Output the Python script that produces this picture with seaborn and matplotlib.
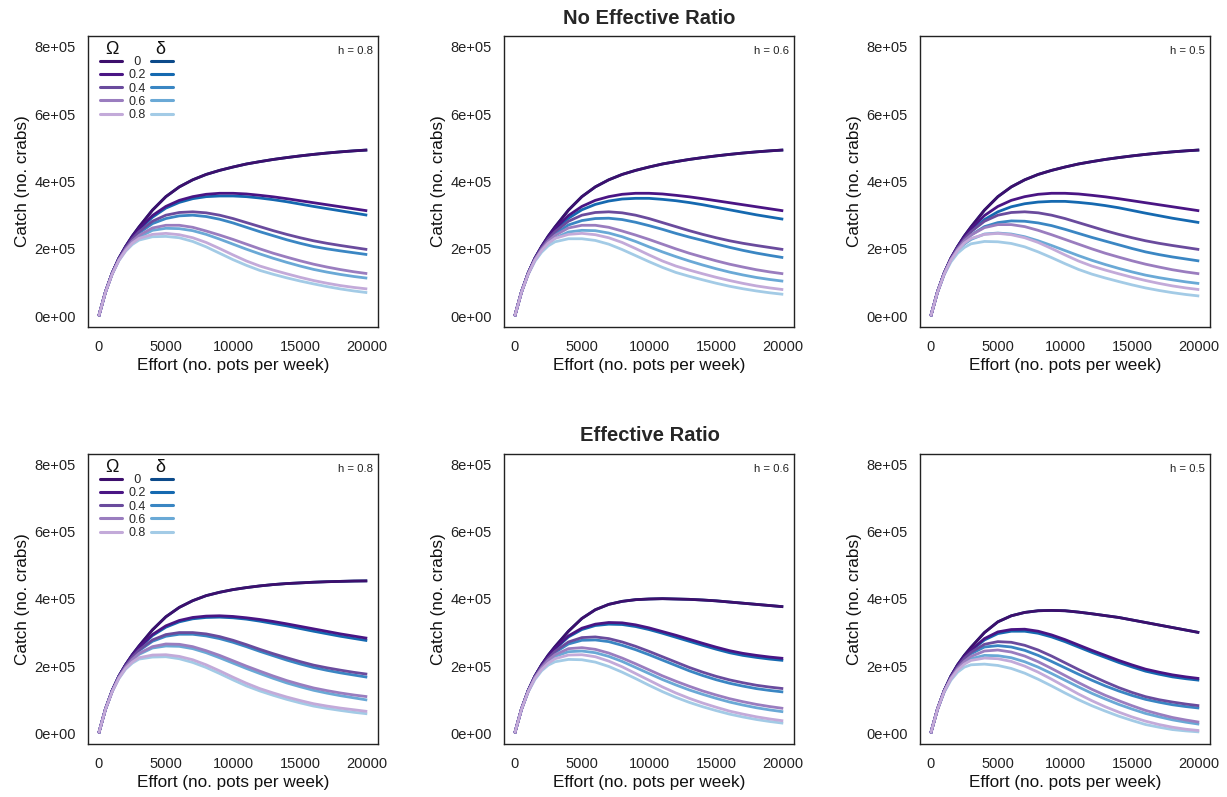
import matplotlib
matplotlib.use("Agg")
import matplotlib.pyplot as plt
from matplotlib.lines import Line2D
import pandas as pd
import seaborn as sns

# ---------------- data (catch in units of 1e5 crabs) ----------------
EFFORT = [0, 500, 1000, 1500, 2000, 2500, 3000, 4000, 5000, 6000, 7000, 8000, 9000,
          10000, 11000, 12000, 13000, 14000, 15000, 16000, 17000, 18000, 19000, 20000]
LEVELS = ["0", "0.2", "0.4", "0.6", "0.8"]
H_LABELS = ["h = 0.8", "h = 0.6", "h = 0.5"]
ROW_TITLES = ["No Effective Ratio", "Effective Ratio"]

# No Effective Ratio, h = 0.8
ner_h08_omega = [
    [0, 0.72, 1.28, 1.72, 2.07, 2.38, 2.65, 3.15, 3.55, 3.84, 4.05, 4.21, 4.33, 4.43, 4.52, 4.59, 4.655, 4.71, 4.76, 4.805, 4.845, 4.88, 4.91, 4.935],
    [0, 0.72, 1.28, 1.72, 2.06, 2.35, 2.60, 2.99, 3.26, 3.44, 3.55, 3.62, 3.65, 3.65, 3.63, 3.59, 3.545, 3.49, 3.43, 3.37, 3.31, 3.25, 3.19, 3.13],
    [0, 0.72, 1.27, 1.70, 2.03, 2.30, 2.51, 2.82, 3.00, 3.08, 3.10, 3.07, 3.00, 2.90, 2.78, 2.66, 2.54, 2.43, 2.33, 2.24, 2.165, 2.10, 2.04, 1.98],
    [0, 0.71, 1.26, 1.68, 1.99, 2.23, 2.40, 2.62, 2.70, 2.70, 2.64, 2.53, 2.41, 2.28, 2.14, 2.00, 1.87, 1.755, 1.645, 1.545, 1.46, 1.385, 1.32, 1.265],
    [0, 0.71, 1.25, 1.66, 1.95, 2.17, 2.31, 2.43, 2.46, 2.42, 2.33, 2.19, 2.01, 1.82, 1.64, 1.49, 1.37, 1.26, 1.155, 1.06, 0.98, 0.91, 0.855, 0.81],
]
ner_h08_delta = [
    [0, 0.72, 1.28, 1.72, 2.07, 2.38, 2.65, 3.15, 3.55, 3.84, 4.05, 4.21, 4.33, 4.43, 4.52, 4.59, 4.655, 4.71, 4.76, 4.805, 4.845, 4.88, 4.91, 4.935],
    [0, 0.72, 1.28, 1.71, 2.05, 2.33, 2.57, 2.94, 3.21, 3.38, 3.49, 3.55, 3.57, 3.57, 3.55, 3.51, 3.46, 3.40, 3.33, 3.26, 3.195, 3.13, 3.065, 3.00],
    [0, 0.72, 1.27, 1.69, 2.01, 2.27, 2.47, 2.75, 2.90, 2.98, 3.00, 2.96, 2.88, 2.77, 2.64, 2.51, 2.39, 2.27, 2.165, 2.07, 2.00, 1.94, 1.885, 1.83],
    [0, 0.71, 1.26, 1.67, 1.97, 2.19, 2.35, 2.55, 2.61, 2.60, 2.54, 2.43, 2.29, 2.14, 1.99, 1.85, 1.72, 1.60, 1.49, 1.39, 1.31, 1.24, 1.18, 1.13],
    [0, 0.71, 1.25, 1.65, 1.93, 2.13, 2.26, 2.36, 2.37, 2.33, 2.22, 2.06, 1.87, 1.68, 1.51, 1.36, 1.245, 1.14, 1.045, 0.96, 0.88, 0.81, 0.75, 0.70],
]
# No Effective Ratio, h = 0.6
ner_h06_omega = [
    [0, 0.72, 1.28, 1.72, 2.07, 2.38, 2.65, 3.15, 3.55, 3.84, 4.05, 4.21, 4.33, 4.43, 4.52, 4.59, 4.655, 4.71, 4.76, 4.805, 4.845, 4.88, 4.91, 4.935],
    [0, 0.72, 1.28, 1.72, 2.06, 2.35, 2.60, 2.99, 3.26, 3.44, 3.55, 3.62, 3.65, 3.65, 3.63, 3.59, 3.545, 3.49, 3.43, 3.37, 3.31, 3.25, 3.19, 3.13],
    [0, 0.72, 1.27, 1.70, 2.03, 2.30, 2.51, 2.82, 3.00, 3.08, 3.10, 3.07, 3.00, 2.90, 2.78, 2.66, 2.54, 2.43, 2.33, 2.24, 2.165, 2.10, 2.04, 1.98],
    [0, 0.71, 1.26, 1.68, 1.99, 2.23, 2.40, 2.62, 2.70, 2.70, 2.64, 2.53, 2.41, 2.28, 2.14, 2.00, 1.87, 1.755, 1.645, 1.545, 1.46, 1.38, 1.315, 1.26],
    [0, 0.71, 1.25, 1.66, 1.95, 2.17, 2.31, 2.43, 2.46, 2.42, 2.33, 2.19, 2.01, 1.82, 1.64, 1.49, 1.37, 1.26, 1.155, 1.06, 0.975, 0.90, 0.84, 0.79],
]
ner_h06_delta = [
    [0, 0.72, 1.28, 1.72, 2.07, 2.38, 2.65, 3.15, 3.55, 3.84, 4.05, 4.21, 4.33, 4.43, 4.52, 4.59, 4.655, 4.71, 4.76, 4.805, 4.845, 4.88, 4.91, 4.935],
    [0, 0.72, 1.28, 1.71, 2.04, 2.32, 2.55, 2.91, 3.16, 3.32, 3.42, 3.48, 3.50, 3.50, 3.47, 3.43, 3.375, 3.31, 3.235, 3.16, 3.085, 3.01, 2.945, 2.88],
    [0, 0.72, 1.27, 1.68, 2.00, 2.25, 2.44, 2.71, 2.84, 2.90, 2.91, 2.87, 2.79, 2.69, 2.58, 2.46, 2.35, 2.25, 2.145, 2.045, 1.955, 1.875, 1.805, 1.74],
    [0, 0.71, 1.26, 1.66, 1.95, 2.17, 2.32, 2.50, 2.55, 2.54, 2.47, 2.36, 2.22, 2.06, 1.91, 1.77, 1.64, 1.52, 1.41, 1.31, 1.225, 1.15, 1.09, 1.04],
    [0, 0.71, 1.24, 1.63, 1.90, 2.09, 2.21, 2.30, 2.30, 2.25, 2.14, 1.98, 1.80, 1.62, 1.45, 1.30, 1.185, 1.08, 0.98, 0.89, 0.815, 0.75, 0.695, 0.65],
]
# No Effective Ratio, h = 0.5
ner_h05_omega = [
    [0, 0.72, 1.28, 1.72, 2.07, 2.38, 2.65, 3.15, 3.55, 3.84, 4.05, 4.21, 4.33, 4.43, 4.52, 4.59, 4.655, 4.71, 4.76, 4.805, 4.845, 4.88, 4.91, 4.935],
    [0, 0.72, 1.28, 1.72, 2.06, 2.35, 2.60, 2.99, 3.26, 3.44, 3.55, 3.62, 3.65, 3.65, 3.63, 3.59, 3.545, 3.49, 3.43, 3.37, 3.31, 3.25, 3.19, 3.13],
    [0, 0.72, 1.27, 1.70, 2.03, 2.30, 2.51, 2.82, 3.00, 3.08, 3.10, 3.07, 3.00, 2.90, 2.78, 2.66, 2.54, 2.43, 2.33, 2.24, 2.165, 2.10, 2.04, 1.98],
    [0, 0.71, 1.26, 1.68, 1.99, 2.24, 2.41, 2.63, 2.72, 2.72, 2.66, 2.55, 2.42, 2.28, 2.14, 2.00, 1.87, 1.755, 1.645, 1.545, 1.46, 1.38, 1.315, 1.26],
    [0, 0.71, 1.25, 1.66, 1.95, 2.17, 2.31, 2.43, 2.46, 2.42, 2.33, 2.19, 2.01, 1.82, 1.64, 1.49, 1.37, 1.26, 1.155, 1.06, 0.975, 0.90, 0.84, 0.79],
]
ner_h05_delta = [
    [0, 0.72, 1.28, 1.72, 2.07, 2.38, 2.65, 3.15, 3.55, 3.84, 4.05, 4.21, 4.33, 4.43, 4.52, 4.59, 4.655, 4.71, 4.76, 4.805, 4.845, 4.88, 4.91, 4.935],
    [0, 0.72, 1.28, 1.70, 2.03, 2.30, 2.52, 2.87, 3.10, 3.25, 3.34, 3.39, 3.41, 3.41, 3.38, 3.34, 3.285, 3.22, 3.14, 3.06, 2.985, 2.91, 2.845, 2.78],
    [0, 0.72, 1.26, 1.67, 1.98, 2.22, 2.41, 2.66, 2.78, 2.83, 2.82, 2.77, 2.69, 2.58, 2.46, 2.34, 2.23, 2.12, 2.01, 1.91, 1.83, 1.76, 1.70, 1.64],
    [0, 0.71, 1.25, 1.65, 1.93, 2.14, 2.28, 2.44, 2.47, 2.44, 2.36, 2.24, 2.10, 1.95, 1.80, 1.66, 1.535, 1.42, 1.315, 1.22, 1.145, 1.08, 1.02, 0.97],
    [0, 0.70, 1.23, 1.61, 1.87, 2.04, 2.15, 2.22, 2.21, 2.16, 2.06, 1.91, 1.74, 1.56, 1.39, 1.25, 1.135, 1.03, 0.93, 0.84, 0.765, 0.70, 0.645, 0.60],
]
# Effective Ratio, h = 0.8
er_h08_omega = [
    [0, 0.72, 1.27, 1.70, 2.04, 2.34, 2.60, 3.08, 3.47, 3.75, 3.95, 4.10, 4.20, 4.28, 4.34, 4.39, 4.43, 4.46, 4.48, 4.50, 4.515, 4.525, 4.535, 4.54],
    [0, 0.72, 1.27, 1.70, 2.04, 2.32, 2.56, 2.94, 3.20, 3.36, 3.45, 3.49, 3.50, 3.48, 3.44, 3.39, 3.33, 3.26, 3.185, 3.11, 3.035, 2.96, 2.895, 2.83],
    [0, 0.72, 1.26, 1.69, 2.01, 2.27, 2.48, 2.78, 2.94, 3.00, 3.00, 2.96, 2.88, 2.77, 2.64, 2.50, 2.37, 2.25, 2.135, 2.03, 1.95, 1.88, 1.815, 1.76],
    [0, 0.71, 1.25, 1.67, 1.97, 2.20, 2.38, 2.58, 2.66, 2.65, 2.58, 2.46, 2.32, 2.16, 2.00, 1.85, 1.705, 1.57, 1.455, 1.35, 1.27, 1.20, 1.14, 1.09],
    [0, 0.71, 1.24, 1.64, 1.93, 2.12, 2.25, 2.33, 2.34, 2.29, 2.19, 2.04, 1.86, 1.67, 1.49, 1.33, 1.20, 1.08, 0.975, 0.88, 0.81, 0.75, 0.70, 0.65],
]
er_h08_delta = [
    [0, 0.72, 1.27, 1.70, 2.04, 2.34, 2.60, 3.08, 3.47, 3.75, 3.95, 4.10, 4.20, 4.28, 4.34, 4.39, 4.43, 4.46, 4.48, 4.50, 4.515, 4.525, 4.535, 4.54],
    [0, 0.72, 1.27, 1.70, 2.03, 2.31, 2.54, 2.91, 3.16, 3.32, 3.41, 3.45, 3.46, 3.44, 3.40, 3.34, 3.27, 3.20, 3.12, 3.04, 2.965, 2.89, 2.825, 2.76],
    [0, 0.72, 1.26, 1.68, 2.00, 2.26, 2.46, 2.74, 2.89, 2.95, 2.95, 2.90, 2.82, 2.71, 2.58, 2.44, 2.31, 2.18, 2.065, 1.96, 1.875, 1.80, 1.735, 1.67],
    [0, 0.71, 1.25, 1.66, 1.96, 2.18, 2.35, 2.54, 2.60, 2.59, 2.52, 2.40, 2.25, 2.09, 1.93, 1.78, 1.635, 1.50, 1.385, 1.28, 1.195, 1.12, 1.055, 0.99],
    [0, 0.71, 1.24, 1.63, 1.91, 2.09, 2.21, 2.27, 2.28, 2.22, 2.11, 1.96, 1.78, 1.59, 1.41, 1.26, 1.13, 1.01, 0.905, 0.81, 0.74, 0.68, 0.625, 0.58],
]
# Effective Ratio, h = 0.6
er_h06_omega = [
    [0, 0.72, 1.27, 1.70, 2.04, 2.33, 2.58, 3.04, 3.42, 3.68, 3.84, 3.93, 3.98, 4.00, 4.01, 4.00, 3.99, 3.97, 3.945, 3.91, 3.875, 3.84, 3.805, 3.77],
    [0, 0.72, 1.27, 1.70, 2.03, 2.30, 2.53, 2.90, 3.13, 3.25, 3.30, 3.29, 3.23, 3.14, 3.03, 2.92, 2.80, 2.68, 2.565, 2.46, 2.38, 2.32, 2.27, 2.23],
    [0, 0.72, 1.26, 1.68, 1.99, 2.24, 2.44, 2.72, 2.85, 2.87, 2.82, 2.72, 2.59, 2.44, 2.28, 2.12, 1.96, 1.82, 1.695, 1.59, 1.505, 1.43, 1.375, 1.33],
    [0, 0.71, 1.25, 1.66, 1.95, 2.18, 2.34, 2.52, 2.55, 2.50, 2.39, 2.24, 2.07, 1.89, 1.71, 1.55, 1.40, 1.26, 1.14, 1.03, 0.94, 0.86, 0.795, 0.74],
    [0, 0.71, 1.24, 1.63, 1.90, 2.09, 2.22, 2.33, 2.34, 2.28, 2.15, 1.98, 1.78, 1.58, 1.38, 1.20, 1.04, 0.90, 0.775, 0.66, 0.57, 0.49, 0.425, 0.37],
]
er_h06_delta = [
    [0, 0.72, 1.27, 1.70, 2.04, 2.33, 2.58, 3.04, 3.42, 3.68, 3.84, 3.93, 3.98, 4.00, 4.01, 4.00, 3.99, 3.97, 3.945, 3.91, 3.875, 3.84, 3.805, 3.77],
    [0, 0.72, 1.27, 1.69, 2.02, 2.29, 2.51, 2.87, 3.09, 3.21, 3.25, 3.24, 3.18, 3.09, 2.98, 2.86, 2.74, 2.62, 2.505, 2.40, 2.32, 2.26, 2.21, 2.17],
    [0, 0.71, 1.26, 1.67, 1.98, 2.22, 2.41, 2.66, 2.77, 2.78, 2.73, 2.62, 2.49, 2.34, 2.18, 2.02, 1.86, 1.72, 1.595, 1.49, 1.405, 1.33, 1.275, 1.23],
    [0, 0.71, 1.25, 1.65, 1.93, 2.14, 2.29, 2.43, 2.45, 2.40, 2.29, 2.14, 1.96, 1.78, 1.60, 1.44, 1.29, 1.16, 1.04, 0.93, 0.84, 0.76, 0.695, 0.64],
    [0, 0.70, 1.23, 1.60, 1.86, 2.03, 2.13, 2.20, 2.19, 2.12, 1.99, 1.82, 1.63, 1.43, 1.24, 1.07, 0.92, 0.79, 0.675, 0.57, 0.485, 0.41, 0.35, 0.30],
]
# Effective Ratio, h = 0.5
er_h05_omega = [
    [0, 0.72, 1.27, 1.70, 2.04, 2.32, 2.56, 3.00, 3.32, 3.50, 3.60, 3.65, 3.66, 3.65, 3.61, 3.56, 3.505, 3.45, 3.375, 3.30, 3.225, 3.15, 3.075, 3.00],
    [0, 0.72, 1.27, 1.69, 2.02, 2.28, 2.48, 2.82, 3.02, 3.09, 3.10, 3.04, 2.93, 2.79, 2.63, 2.47, 2.32, 2.17, 2.035, 1.91, 1.82, 1.74, 1.68, 1.63],
    [0, 0.71, 1.26, 1.67, 1.98, 2.23, 2.41, 2.65, 2.73, 2.71, 2.62, 2.48, 2.30, 2.10, 1.90, 1.71, 1.53, 1.36, 1.215, 1.09, 1.00, 0.93, 0.87, 0.82],
    [0, 0.71, 1.25, 1.64, 1.93, 2.14, 2.29, 2.45, 2.48, 2.42, 2.30, 2.13, 1.93, 1.72, 1.51, 1.31, 1.13, 0.97, 0.82, 0.68, 0.57, 0.47, 0.395, 0.33],
    [0, 0.71, 1.24, 1.62, 1.88, 2.06, 2.17, 2.24, 2.22, 2.14, 2.00, 1.82, 1.61, 1.39, 1.17, 0.97, 0.79, 0.63, 0.485, 0.36, 0.26, 0.18, 0.12, 0.08],
]
er_h05_delta = [
    [0, 0.72, 1.27, 1.70, 2.04, 2.32, 2.56, 3.00, 3.32, 3.50, 3.60, 3.65, 3.66, 3.65, 3.61, 3.56, 3.505, 3.45, 3.375, 3.30, 3.225, 3.15, 3.075, 3.00],
    [0, 0.72, 1.26, 1.69, 2.01, 2.26, 2.46, 2.78, 2.97, 3.04, 3.04, 2.98, 2.87, 2.73, 2.57, 2.41, 2.26, 2.11, 1.975, 1.85, 1.76, 1.68, 1.625, 1.58],
    [0, 0.71, 1.25, 1.66, 1.96, 2.20, 2.37, 2.57, 2.61, 2.57, 2.47, 2.32, 2.14, 1.95, 1.76, 1.58, 1.41, 1.26, 1.125, 1.01, 0.925, 0.85, 0.795, 0.75],
    [0, 0.71, 1.24, 1.63, 1.90, 2.09, 2.22, 2.32, 2.31, 2.25, 2.13, 1.97, 1.78, 1.58, 1.38, 1.19, 1.02, 0.86, 0.72, 0.59, 0.49, 0.40, 0.33, 0.27],
    [0, 0.70, 1.22, 1.58, 1.82, 1.97, 2.04, 2.06, 2.02, 1.93, 1.79, 1.61, 1.41, 1.20, 1.00, 0.82, 0.66, 0.51, 0.38, 0.26, 0.18, 0.11, 0.07, 0.04],
]

OMEGA_COLORS = ["#3d0f6c", "#4a1584", "#6a4b9d", "#9a7dbf", "#c3aad9"]
DELTA_COLORS = ["#0c4a8a", "#1569b0", "#3a86c3", "#6aa9d6", "#a3cbe6"]

PANELS = [
    [(ner_h08_omega, ner_h08_delta), (ner_h06_omega, ner_h06_delta), (ner_h05_omega, ner_h05_delta)],
    [(er_h08_omega, er_h08_delta), (er_h06_omega, er_h06_delta), (er_h05_omega, er_h05_delta)],
]

for row in PANELS:
    for om, de in row:
        for s in om + de:
            assert len(s) == len(EFFORT), len(s)

# ---------------- style ----------------
sns.set_style("white")
plt.rcParams["font.family"] = ["Liberation Sans", "DejaVu Sans"]
plt.rcParams["axes.edgecolor"] = "#222222"
plt.rcParams["axes.linewidth"] = 1.0

W, H = 1227, 797
fig = plt.figure(figsize=(W / 100, H / 100), dpi=100)

COL_LEFT = [88, 504, 920]
ROW_BOX = [(36, 327), (454, 744)]
PANEL_W = 290

hue_order = [f"delta {l}" for l in LEVELS] + [f"omega {l}" for l in LEVELS]
palette = {f"delta {l}": c for l, c in zip(LEVELS, DELTA_COLORS)}
palette.update({f"omega {l}": c for l, c in zip(LEVELS, OMEGA_COLORS)})

for r in range(2):
    top, bot = ROW_BOX[r]
    for c in range(3):
        ax = fig.add_axes([COL_LEFT[c] / W, 1 - bot / H, PANEL_W / W, (bot - top) / H])
        omega, delta = PANELS[r][c]
        rows = []
        for lvl, vals in zip(LEVELS, delta):
            for e, v in zip(EFFORT, vals):
                rows.append((e, v * 1e5, f"delta {lvl}"))
        for lvl, vals in zip(LEVELS, omega):
            for e, v in zip(EFFORT, vals):
                rows.append((e, v * 1e5, f"omega {lvl}"))
        df = pd.DataFrame(rows, columns=["effort", "catch", "series"])
        sns.lineplot(data=df, x="effort", y="catch", hue="series", hue_order=hue_order,
                     palette=palette, linewidth=2.0, legend=False, ax=ax, sort=False)
        for ln in ax.get_lines():
            ln.set_solid_joinstyle("round")
            ln.set_solid_capstyle("butt")

        ax.set_xlim(-800, 20800)
        ax.set_ylim(-32000, 832000)
        ax.set_xticks([0, 5000, 10000, 15000, 20000])
        ax.set_xticklabels(["0", "5000", "10000", "15000", "20000"])
        ax.set_yticks([0, 2e5, 4e5, 6e5, 8e5])
        ax.set_yticklabels(["0e+00", "2e+05", "4e+05", "6e+05", "8e+05"])
        ax.tick_params(axis="both", direction="out", length=5.5, width=1.0,
                       color="#222222", labelsize=10.5, labelcolor="#222222")
        ax.tick_params(axis="x", pad=4)
        ax.tick_params(axis="y", pad=3.5)
        for s in ax.spines.values():
            s.set_visible(True)
            s.set_linewidth(1.0)
            s.set_color("#222222")
        ax.set_xlabel("Effort (no. pots per week)", fontsize=12.3, labelpad=3, color="#111111")
        ax.set_ylabel("Catch (no. crabs)", fontsize=12.3, labelpad=3, color="#111111")
        ax.grid(False)

        ax.text(0.982, 0.949, H_LABELS[c], transform=ax.transAxes, ha="right",
                va="center", fontsize=8.2, color="#222222")

        if c == 0:
            handles = [Line2D([], [], color=col, lw=2.2) for col in OMEGA_COLORS] + \
                      [Line2D([], [], color=col, lw=2.2) for col in DELTA_COLORS]
            labels = ["\u20020"] + LEVELS[1:] + [" "] * 5
            ax.legend(handles, labels, ncol=2, loc="upper left",
                      bbox_to_anchor=(0.0414, 0.931), frameon=False, fontsize=9,
                      handlelength=1.76, handletextpad=0.5, columnspacing=0.42,
                      labelspacing=0.1, borderpad=0, borderaxespad=0)
            ax.text(0.082, 0.955, "\u03a9", transform=ax.transAxes, ha="center",
                    va="center", fontsize=13, color="#111111")
            ax.text(0.248, 0.955, "\u03b4", transform=ax.transAxes, ha="center",
                    va="center", fontsize=13, color="#111111")

fig.text(649.5 / W, 1 - 18 / H, ROW_TITLES[0], ha="center", va="center",
         fontsize=14.5, fontweight="bold")
fig.text(649.5 / W, 1 - 436 / H, ROW_TITLES[1], ha="center", va="center",
         fontsize=14.5, fontweight="bold")

fig.savefig("out.png", dpi=100)
